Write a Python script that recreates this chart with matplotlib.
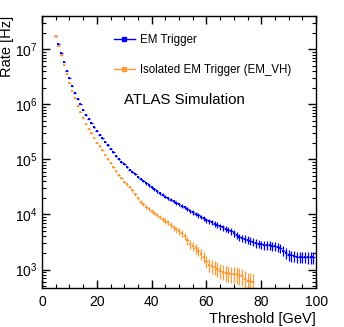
import numpy as np
import matplotlib
matplotlib.use("Agg")
import matplotlib.pyplot as plt
from matplotlib.lines import Line2D

plt.rcParams['font.family'] = ['Liberation Sans', 'DejaVu Sans']
plt.rcParams['mathtext.fontset'] = 'custom'
plt.rcParams['mathtext.rm'] = 'Liberation Sans'
plt.rcParams['mathtext.it'] = 'Liberation Sans'
plt.rcParams['mathtext.bf'] = 'Liberation Sans'

# --- data (threshold in GeV, rate in Hz) ---
em_threshold = list(range(5, 100))
em_rate = [
    1.75e7, 1.22e7, 8.35e6, 5.80e6, 4.10e6, 2.97e6, 2.19e6, 1.63e6, 1.27e6, 1.00e6,
    7.88e5, 6.50e5, 5.41e5, 4.57e5, 3.82e5, 3.27e5, 2.81e5, 2.41e5, 2.10e5, 1.82e5,
    1.57e5, 1.34e5, 1.15e5, 1.00e5, 8.93e4, 8.11e4, 7.24e4, 6.53e4, 5.88e4, 5.34e4,
    4.84e4, 4.42e4, 4.02e4, 3.66e4, 3.37e4, 3.10e4, 2.85e4, 2.62e4, 2.43e4, 2.26e4,
    2.11e4, 1.97e4, 1.85e4, 1.74e4, 1.62e4, 1.52e4, 1.43e4, 1.34e4, 1.26e4, 1.17e4,
    1.09e4, 1.02e4, 9.59e3, 9.01e3, 8.46e3, 7.94e3, 7.52e3, 7.16e3, 6.78e3, 6.39e3,
    6.05e3, 5.80e3, 5.49e3, 5.22e3, 4.91e3, 4.61e3, 4.24e3, 3.90e3, 3.74e3, 3.59e3,
    3.44e3, 3.30e3, 3.16e3, 3.03e3, 2.93e3, 2.85e3, 2.79e3, 2.73e3, 2.73e3, 2.67e3,
    2.62e3, 2.56e3, 2.46e3, 2.21e3, 2.00e3, 1.85e3, 1.80e3, 1.76e3, 1.72e3, 1.72e3,
    1.69e3, 1.69e3, 1.67e3, 1.67e3, 1.67e3,
]

iso_threshold = list(range(5, 78))
iso_rate = [
    1.70e7, 1.13e7, 7.68e6, 5.18e6, 3.56e6, 2.48e6, 1.77e6, 1.29e6, 9.47e5, 7.24e5,
    5.64e5, 4.46e5, 3.61e5, 2.97e5, 2.44e5, 2.01e5, 1.72e5, 1.48e5, 1.22e5, 1.01e5,
    8.57e4, 7.24e4, 6.12e4, 5.19e4, 4.52e4, 3.90e4, 3.51e4, 3.16e4, 2.73e4, 2.31e4,
    1.95e4, 1.69e4, 1.52e4, 1.37e4, 1.26e4, 1.16e4, 1.06e4, 9.79e3, 9.01e3, 8.11e3,
    7.62e3, 7.16e3, 6.44e3, 5.80e3, 5.34e3, 4.91e3, 4.52e3, 4.06e3, 3.37e3, 2.91e3,
    2.62e3, 2.41e3, 2.17e3, 1.91e3, 1.69e3, 1.40e3, 1.23e3, 1.16e3, 1.11e3, 1.04e3,
    9.59e2, 9.20e2, 8.81e2, 8.63e2, 8.45e2, 8.45e2, 8.28e2, 7.94e2, 7.62e2, 6.86e2,
    6.31e2, 6.18e2, 6.05e2,
]

# statistical (Poisson) uncertainty: rate per simulated event
HZ_PER_EVENT = 90.0

BLUE = '#0000ff'
ORANGE = '#ff9933'

fig = plt.figure(figsize=(3.44, 3.27), dpi=100)
ax = fig.add_axes([0.122, 0.119, 0.797, 0.832])

for thr, rate, col in [(em_threshold, em_rate, BLUE), (iso_threshold, iso_rate, ORANGE)]:
    rate = np.array(rate)
    err = np.sqrt(rate * HZ_PER_EVENT)
    ax.errorbar(thr, rate, xerr=0.5, yerr=err, fmt='s', ms=1.8, mew=0,
                color=col, ecolor=col, elinewidth=0.9, capsize=0)

ax.set_yscale('log')
ax.set_xlim(0, 100)
ax.set_ylim(460, 4.0e7)

ax.set_xticks([0, 20, 40, 60, 80, 100])
ax.set_xticks(np.arange(0, 101, 5), minor=True)
ax.tick_params(which='both', direction='in', top=True, right=True, labelsize=10)
ax.tick_params(which='major', length=6, width=1)
ax.tick_params(which='minor', length=3, width=0.8)
ax.tick_params(axis='y', pad=3)
ax.tick_params(axis='x', pad=5)
for s in ax.spines.values():
    s.set_linewidth(1.0)

ax.set_xlabel('Threshold [GeV]', loc='right', fontsize=10.5, labelpad=2)
# y title sits against the top of the frame, as ROOT draws it
ax.text(-0.128, 1.0, 'Rate [Hz]', transform=ax.transAxes, rotation=90,
        fontsize=10.5, ha='center', va='top')

handles = [
    Line2D([], [], color=BLUE, marker='s', ms=3, lw=1),
    Line2D([], [], color=ORANGE, marker='s', ms=3, lw=1),
]
ax.legend(handles, ['EM Trigger', 'Isolated EM Trigger (EM_VH)'],
          loc='upper left', bbox_to_anchor=(0.262, 0.933), frameon=False,
          fontsize=8.3, handlelength=1.8, handletextpad=0.45, labelspacing=1.54,
          borderpad=0, borderaxespad=0)

ax.text(0.3, 0.691, 'ATLAS Simulation', transform=ax.transAxes, fontsize=10.8,
        ha='left', va='center')

fig.savefig('out.png', dpi=100)
